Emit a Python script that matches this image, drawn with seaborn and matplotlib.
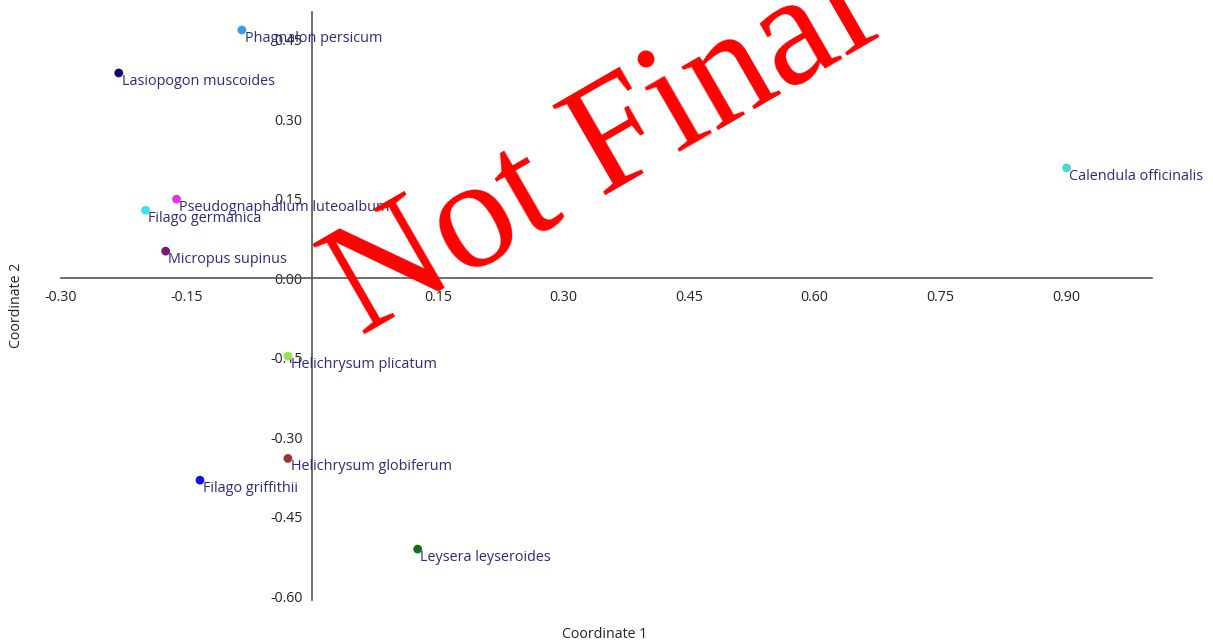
import matplotlib
matplotlib.use("Agg")
import matplotlib.pyplot as plt
import seaborn as sns
import pandas as pd

# Ordination coordinates of each species
species = [
    "Phagnalon persicum",
    "Lasiopogon muscoides",
    "Calendula officinalis",
    "Pseudognaphalium luteoalbum",
    "Filago germanica",
    "Micropus supinus",
    "Helichrysum plicatum",
    "Helichrysum globiferum",
    "Filago griffithii",
    "Leysera leyseroides",
]
coord1 = [-0.084, -0.231, 0.901, -0.162, -0.199, -0.175, -0.029, -0.029, -0.134, 0.126]
coord2 = [0.468, 0.387, 0.208, 0.149, 0.128, 0.051, -0.147, -0.340, -0.381, -0.511]
colors = ["#3b9de6", "#0c0c6e", "#4fd6cf", "#de38de", "#38e3ea",
          "#731a7a", "#9be050", "#9c3232", "#1414d8", "#186a1c"]

x_ticks = [-0.30, -0.15, 0.15, 0.30, 0.45, 0.60, 0.75, 0.90]
y_ticks = [-0.60, -0.45, -0.30, -0.15, 0.00, 0.15, 0.30, 0.45]

df = pd.DataFrame({"species": species, "c1": coord1, "c2": coord2})

sns.set_theme(style="white")
plt.rcParams["font.family"] = ["Open Sans", "DejaVu Sans"]

W, H = 1213, 643
fig = plt.figure(figsize=(W / 100, H / 100), dpi=100)
ax = fig.add_axes([61 / W, 1 - 600 / H, (1152 - 61) / W, (600 - 12) / H])

sns.scatterplot(data=df, x="c1", y="c2", hue="species", palette=colors,
                s=40, edgecolor="none", legend=False, ax=ax, zorder=3)

label_color = "#2b2b80"
for name, x, y in zip(species, coord1, coord2):
    ax.annotate(name, (x, y), xytext=(2, -0.5), textcoords="offset points",
                ha="left", va="top", fontsize=10.4, color=label_color, zorder=4)

ax.set_xlim(-0.30, 1.003)
ax.set_ylim(-0.607, 0.502)

for side in ("top", "right"):
    ax.spines[side].set_visible(False)
for side in ("left", "bottom"):
    ax.spines[side].set_position(("data", 0))
    ax.spines[side].set_color("#555555")
    ax.spines[side].set_linewidth(1.2)

ax.set_xticks(x_ticks)
ax.set_xticklabels([f"{t:.2f}" for t in x_ticks])
ax.set_yticks(y_ticks)
ax.set_yticklabels([f"{t:.2f}" for t in y_ticks])
ax.tick_params(axis="both", direction="out", length=5, width=1.1, color="#555555",
               labelsize=10.2, labelcolor="#222222")
ax.tick_params(axis="x", pad=3.5)
ax.tick_params(axis="y", pad=2)
ax.set_xlabel("")
ax.set_ylabel("")

fig.text(605 / W, 1 - 634 / H, "Coordinate 1", ha="center", va="center",
         fontsize=10.2, color="#222222")
fig.text(17 / W, 1 - 305 / H, "Coordinate 2", ha="center", va="center",
         rotation=90, fontsize=10.2, color="#222222")

# Draft watermark, anchored at the start of its baseline
fig.text(361 / W, 1 - 336 / H, "Not Final", ha="left", va="baseline",
         rotation=30, rotation_mode="anchor", fontsize=114, color="#ff0000",
         family=["Liberation Serif", "DejaVu Serif"], zorder=10)

fig.savefig("out.png", dpi=100)
